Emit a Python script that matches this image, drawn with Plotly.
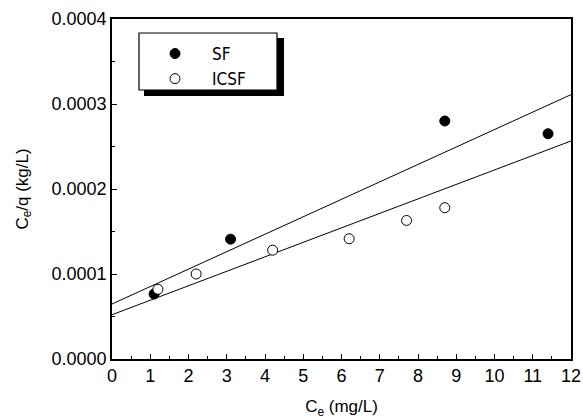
import plotly.graph_objects as go

# Data
sf_x = [1.1, 3.1, 8.7, 11.4]
sf_y = [0.0000765, 0.000141, 0.000280, 0.000265]
icsf_x = [1.2, 2.2, 4.2, 6.2, 7.7, 8.7]
icsf_y = [0.000082, 0.000100, 0.000128, 0.0001415, 0.000163, 0.000178]
# Linear fit lines (endpoints)
fit_x = [0, 12]
sf_fit = [0.0000647, 0.000311]
icsf_fit = [0.0000521, 0.0002565]

x_ticks = list(range(0, 13))
y_ticks = [0.0, 0.0001, 0.0002, 0.0003, 0.0004]
y_ticklabels = ["0.0000", "0.0001", "0.0002", "0.0003", "0.0004"]

FONT = "Liberation Sans, Arial, sans-serif"
NARROW = "Liberation Sans Narrow, Arial Narrow, DejaVu Sans Condensed, Liberation Sans, sans-serif"

fig = go.Figure()
fig.add_trace(go.Scatter(x=fit_x, y=sf_fit, mode="lines",
                         line=dict(color="black", width=1), showlegend=False, hoverinfo="skip"))
fig.add_trace(go.Scatter(x=fit_x, y=icsf_fit, mode="lines",
                         line=dict(color="black", width=1), showlegend=False, hoverinfo="skip"))
fig.add_trace(go.Scatter(x=sf_x, y=sf_y, mode="markers", name="SF",
                         marker=dict(symbol="circle", size=10, color="black",
                                     line=dict(color="black", width=1))))
fig.add_trace(go.Scatter(x=icsf_x, y=icsf_y, mode="markers", name="ICSF",
                         marker=dict(symbol="circle", size=10, color="white",
                                     line=dict(color="black", width=1))))

W, H = 583, 420
L, R, T, B = 112, 12, 19, 61
pw, ph = W - L - R, H - T - B

def px(x):
    return (x - L) / pw

def py(y):
    return 1 - (y - T) / ph

shapes = [
    # legend shadow
    dict(type="rect", xref="paper", yref="paper", x0=px(144), x1=px(284), y0=py(96), y1=py(38),
         fillcolor="black", line=dict(width=0), layer="above"),
    # legend box
    dict(type="rect", xref="paper", yref="paper", x0=px(139), x1=px(277), y0=py(90), y1=py(33),
         fillcolor="white", line=dict(color="black", width=1.2), layer="above"),
]

fig.update_layout(
    width=W, height=H,
    margin=dict(l=L, r=R, t=T, b=B, autoexpand=False),
    paper_bgcolor="white", plot_bgcolor="white",
    font=dict(family=FONT, size=18, color="black"),
    shapes=shapes,
    showlegend=True,
    legend=dict(x=px(138), y=py(36), xanchor="left", yanchor="top",
                bgcolor="rgba(0,0,0,0)", borderwidth=0,
                font=dict(family=NARROW, size=17, color="black"),
                itemwidth=64, tracegroupgap=0),
    xaxis=dict(range=[0, 12], tickvals=x_ticks, ticks="inside", ticklen=5, tickwidth=1.2,
               tickcolor="black", showline=True, linecolor="black", linewidth=1.5, mirror=True,
               showgrid=False, zeroline=False, automargin=False,
               minor=dict(ticks="inside", ticklen=3, tickwidth=1.2, tickcolor="black", dtick=0.5),
               tickfont=dict(size=18),
               title=dict(text="C<sub>e</sub> (mg/L)", font=dict(size=17), standoff=15)),
    yaxis=dict(range=[0, 0.0004], tickvals=y_ticks, ticktext=y_ticklabels, ticks="inside",
               ticklen=5, tickwidth=1.2, tickcolor="black", showline=True, linecolor="black",
               linewidth=1.5, mirror=True, showgrid=False, zeroline=False, automargin=False,
               minor=dict(ticks="inside", ticklen=3, tickwidth=1.2, tickcolor="black", dtick=0.00005),
               tickfont=dict(size=18),
               title=dict(text="C<sub>e</sub>/q (kg/L)", font=dict(size=17), standoff=19)),
)

fig.write_html("out.html", config={"displayModeBar": False},
               post_script="document.body.style.margin='0';document.body.style.overflow='hidden';")
